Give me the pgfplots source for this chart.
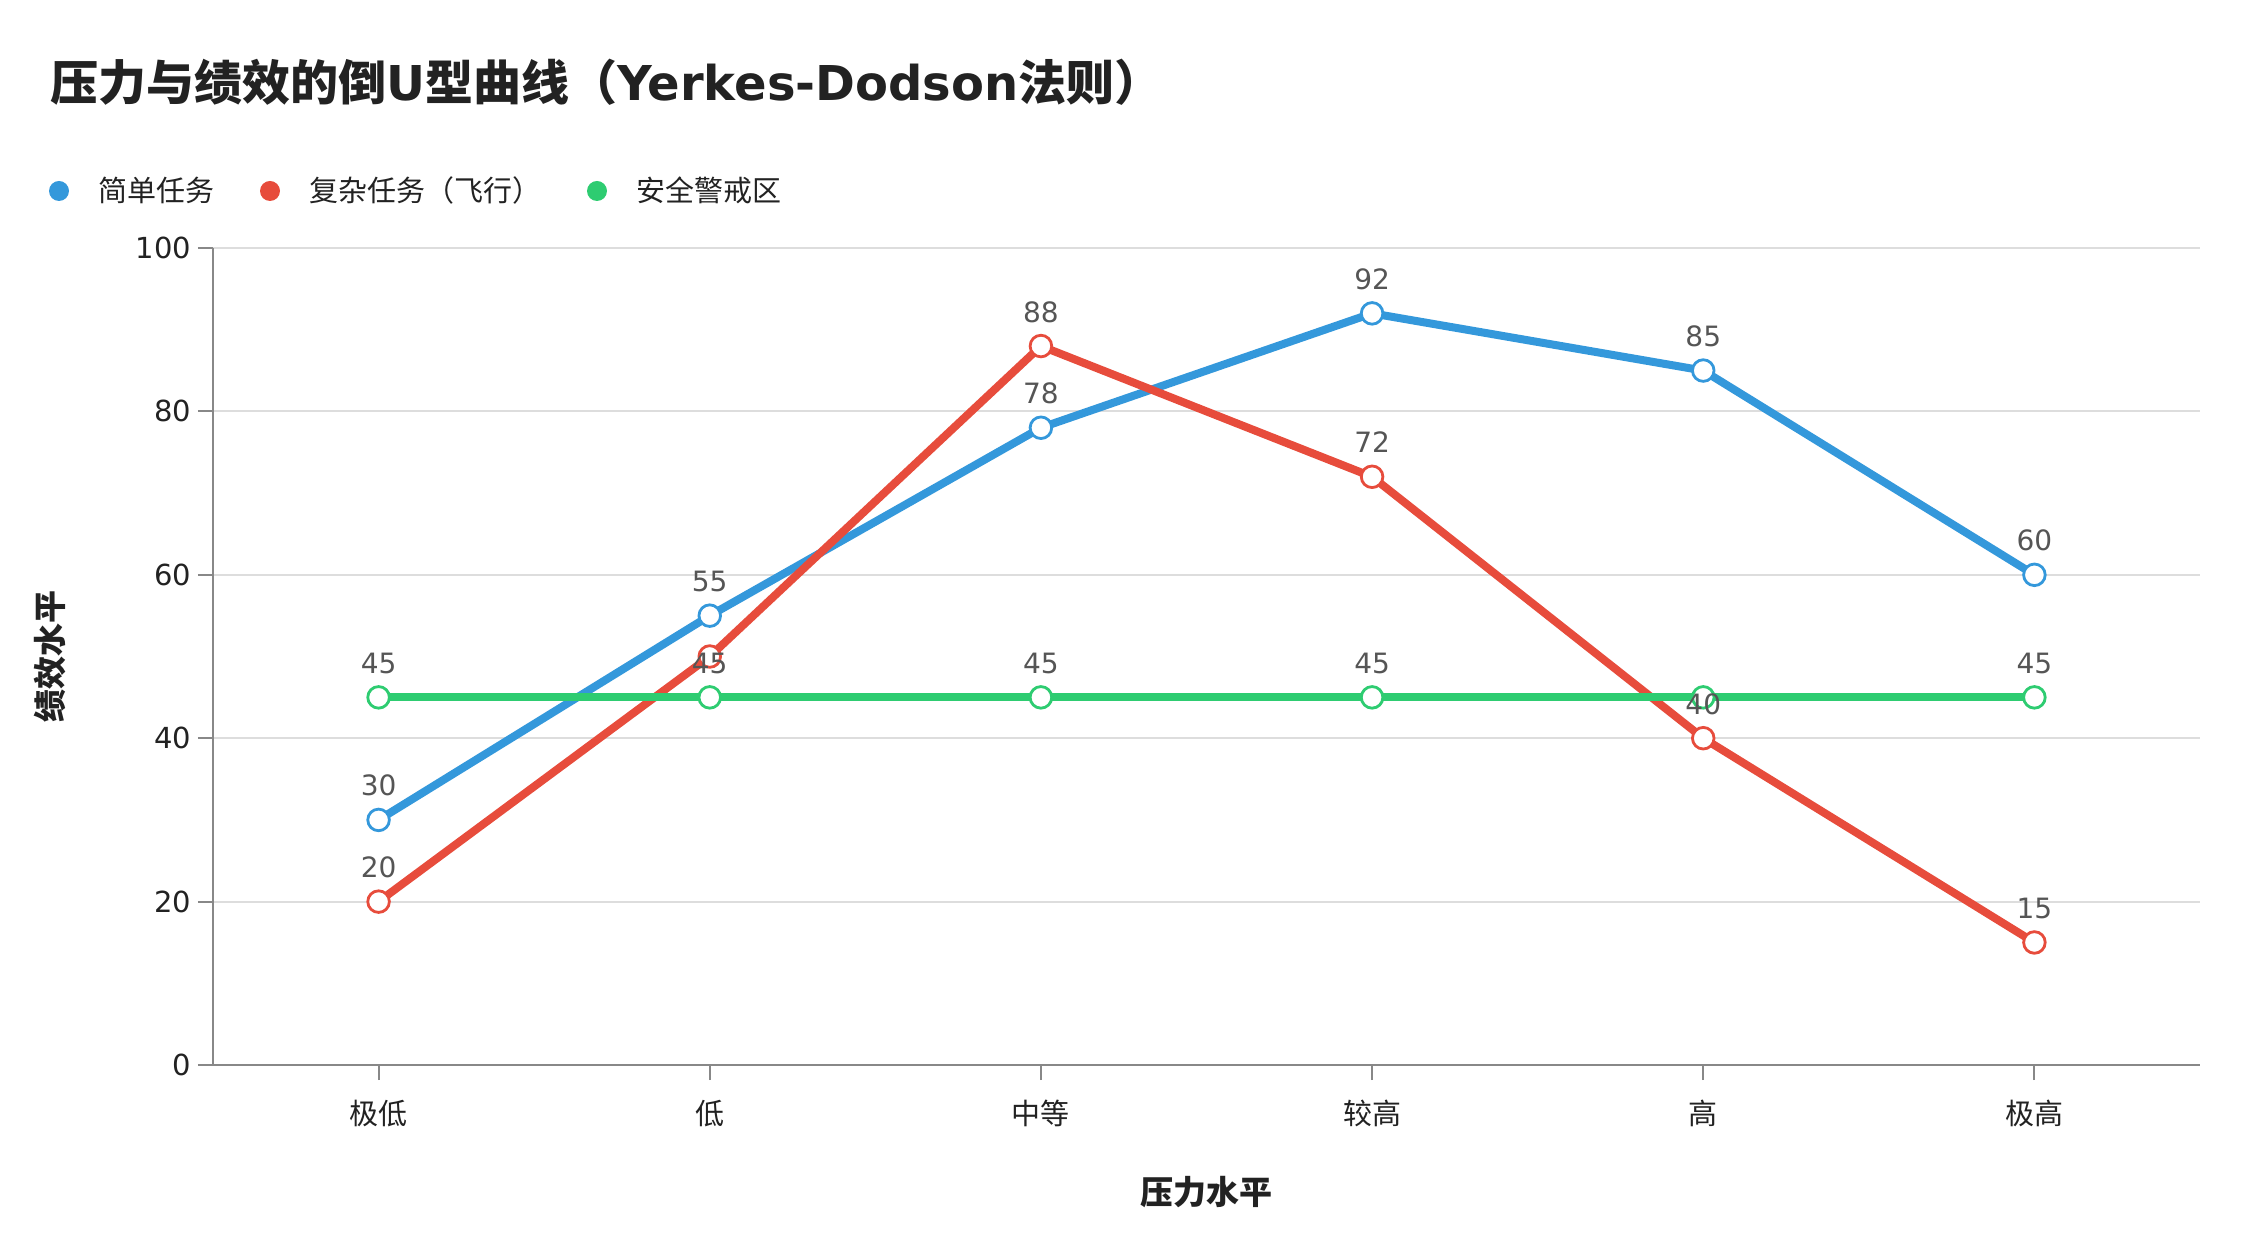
\documentclass[border=0pt]{standalone}
\usepackage{pgfplots}
\pgfplotsset{compat=1.18}
\usepackage{fontspec}
\setmainfont{DejaVu Sans}
\newfontfamily\cjk{Noto Sans CJK SC}
\definecolor{cblue}{HTML}{3498DB}
\definecolor{cred}{HTML}{E74C3C}
\definecolor{cgreen}{HTML}{2ECC71}
\definecolor{lblgray}{HTML}{555555}
\definecolor{axgray}{HTML}{888888}
\definecolor{gridgray}{HTML}{DDDDDD}
\definecolor{txt}{HTML}{222222}
\newcommand{\fs}[1]{\fontsize{#1}{#1}\selectfont}
\begin{document}
\begin{tikzpicture}
\useasboundingbox (0,0) rectangle (1125bp,-630bp);
\node[anchor=west, inner sep=0pt, text=txt, font=\fs{24bp}\bfseries] at (25bp,-41bp) {{\cjk 压力与绩效的倒}U{\cjk 型曲线（}Yerkes-Dodson{\cjk 法则）}};
\begin{axis}[
  at={(106.5bp,-532.5bp)}, anchor=south west,
  width=993.5bp, height=408.5bp, scale only axis,
  xmin=-0.5, xmax=5.5, ymin=0, ymax=100,
  xtick={0,...,5}, xticklabels={极低,低,中等,较高,高,极高},
  ytick={0,20,...,100},
  axis lines=left, axis line style={-, draw=axgray, line width=1bp},
  tick style={draw=axgray, line width=1bp},
  major tick length=7.5bp, tick align=outside,
  ymajorgrids, grid style={draw=gridgray, line width=1bp},
  /pgf/number format/assume math mode=true,
  xticklabel style={font=\cjk\fs{14.5bp}, text=txt, yshift=-6.5bp},
  yticklabel style={font=\fs{14.5bp}, text=txt},
  xlabel={\cjk\bfseries 压力水平},
  xlabel style={at={(axis description cs:0.5,-0.1554)}, anchor=center, font=\fs{16.5bp}, text=txt},
  ylabel={\cjk\bfseries 绩效水平},
  ylabel style={at={(axis description cs:-0.082,0.5)}, anchor=center, font=\fs{16.5bp}, text=txt},
  clip=false,
  legend cell align=left,
  legend columns=3,
  legend style={at={(axis description cs:-0.08254,1.0698)}, anchor=west, draw=none, fill=none,
    inner sep=0pt, outer sep=0pt, font=\cjk\fs{14.5bp}, text=txt,
    nodes={inner sep=0pt},
    /tikz/every odd column/.append style={column sep=14.5bp},
    /tikz/every even column/.append style={column sep=23bp}},
  legend image code/.code={\fill[#1] (5bp,0bp) circle (5bp);},
  every axis plot/.append style={line width=4bp, mark=*, mark size=5.4bp},
  nodes near coords style={anchor=base, yshift=12bp, inner sep=0pt, font=\fs{14bp}, text=lblgray},
]
\addlegendimage{fill=cblue, draw=none}
\addlegendentry{简单任务}
\addlegendimage{fill=cred, draw=none}
\addlegendentry{复杂任务（飞行）}
\addlegendimage{fill=cgreen, draw=none}
\addlegendentry{安全警戒区}

\addplot[draw=cblue, forget plot, mark options={draw=cblue, fill=white, line width=1.4bp}] coordinates {(0,30) (1,55) (2,78) (3,92) (4,85) (5,60)};
\addplot[draw=cred, forget plot, mark options={draw=cred, fill=white, line width=1.4bp}] coordinates {(0,20) (1,50) (2,88) (3,72) (4,40) (5,15)};
\addplot[draw=cgreen, forget plot, mark options={draw=cgreen, fill=white, line width=1.4bp}] coordinates {(0,45) (1,45) (2,45) (3,45) (4,45) (5,45)};

\addplot[draw=none, mark=none, forget plot, point meta=explicit symbolic, nodes near coords] coordinates {(0,30)[30] (1,55)[55] (2,78)[78] (3,92)[92] (4,85)[85] (5,60)[60]};
\addplot[draw=none, mark=none, forget plot, point meta=explicit symbolic, nodes near coords] coordinates {(0,20)[20] (2,88)[88] (3,72)[72] (4,40)[40] (5,15)[15]};
\addplot[draw=none, mark=none, forget plot, point meta=explicit symbolic, nodes near coords] coordinates {(0,45)[45] (1,45)[45] (2,45)[45] (3,45)[45] (5,45)[45]};
\end{axis}
\end{tikzpicture}
\end{document}
